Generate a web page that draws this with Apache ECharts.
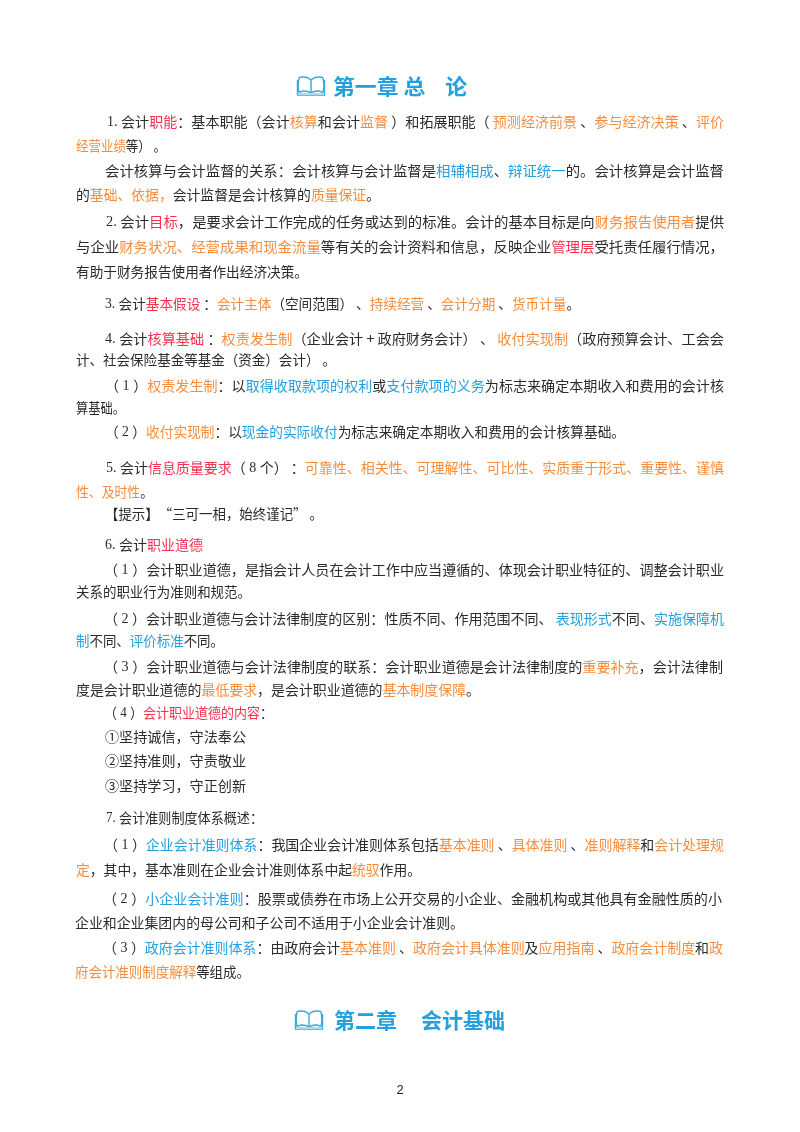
<!DOCTYPE html>
<html>
<head>
<meta charset="utf-8">
<script src="https://cdn.jsdelivr.net/npm/echarts@6/dist/echarts.min.js"></script>
<style>html,body{margin:0;background:#fff}#main{width:800px;height:1132px}</style>
</head>
<body>
<div id="main"></div>
<script>
// {r|} red, {o|} orange, {b|} blue, {d|} latin digits
const bodyLines = [
    '{d|1. }会计{r|职能}：基本职能（会计{o|核算}和会计{o|监督} ）和拓展职能（ {o|预测经济前景} 、{o|参与经济决策} 、{o|评价}',
    '{o|经营业绩}等） 。',
    '会计核算与会计监督的关系：会计核算与会计监督是{b|相辅相成}、{b|辩证统一}的。会计核算是会计监督',
    '的{o|基础、依据，}会计监督是会计核算的{o|质量保证}。',
    '{d|2. }会计{r|目标}，是要求会计工作完成的任务或达到的标准。会计的基本目标是向{o|财务报告使用者}提供',
    '与企业{o|财务状况、经营成果和现金流量}等有关的会计资料和信息，反映企业{r|管理层}受托责任履行情况，',
    '有助于财务报告使用者作出经济决策。',
    '{d|3. }会计{r|基本假设} ：{o|会计主体}（空间范围） 、{o|持续经营} 、{o|会计分期} 、{o|货币计量}。',
    '{d|4. }会计{r|核算基础} ：{o|权责发生制}（企业会计 + 政府财务会计） 、 {o|收付实现制}（政府预算会计、工会会',
    '计、社会保险基金等基金（资金）会计） 。',
    '（{d| 1 }）{o|权责发生制}：以{b|取得收取款项的权利}或{b|支付款项的义务}为标志来确定本期收入和费用的会计核',
    '算基础。',
    '（{d| 2 }）{o|收付实现制}：以{b|现金的实际收付}为标志来确定本期收入和费用的会计核算基础。',
    '{d|5. }会计{r|信息质量要求}（{d| 8 }个） ：{o|可靠性、相关性、可理解性、可比性、实质重于形式、重要性、谨慎}',
    '{o|性、及时性}。',
    '【提示】“三可一相，始终谨记” 。',
    '{d|6. }会计{r|职业道德}',
    '（{d| 1 }）会计职业道德，是指会计人员在会计工作中应当遵循的、体现会计职业特征的、调整会计职业',
    '关系的职业行为准则和规范。',
    '（{d| 2 }）会计职业道德与会计法律制度的区别：性质不同、作用范围不同、 {b|表现形式}不同、{b|实施保障机}',
    '{b|制}不同、{b|评价标准}不同。',
    '（{d| 3 }）会计职业道德与会计法律制度的联系：会计职业道德是会计法律制度的{o|重要补充}，会计法律制',
    '度是会计职业道德的{o|最低要求}，是会计职业道德的{o|基本制度保障}。',
    '（{d| 4 }）{r|会计职业道德的内容}：',
    '①坚持诚信，守法奉公',
    '②坚持准则，守责敬业',
    '③坚持学习，守正创新',
    '{d|7. }会计准则制度体系概述：',
    '（{d| 1 }）{b|企业会计准则体系}：我国企业会计准则体系包括{o|基本准则} 、{o|具体准则} 、{o|准则解释}和{o|会计处理规}',
    '{o|定}，其中，基本准则在企业会计准则体系中起{o|统驭}作用。',
    '（{d| 2 }）{b|小企业会计准则}：股票或债券在市场上公开交易的小企业、金融机构或其他具有金融性质的小',
    '企业和企业集团内的母公司和子公司不适用于小企业会计准则。',
    '（{d| 3 }）{b|政府会计准则体系}：由政府会计{o|基本准则} 、{o|政府会计具体准则}及{o|应用指南} 、{o|政府会计制度}和{o|政}',
    '{o|府会计准则制度解释}等组成。'
];
const lineX = [107, 76, 105, 76, 106, 76, 76, 105, 105, 76, 105, 76, 105, 106, 76, 105, 105, 104, 76, 104, 76, 104, 76, 104, 105, 105, 105, 106, 104, 76, 103, 75, 103, 75];
const lineY = [122, 146, 171, 195, 222, 247, 272, 304, 339, 360, 386, 408, 432, 468, 492, 514, 545, 570, 592, 619, 641, 667, 690, 713, 737, 761, 786, 818, 845, 870, 899, 923, 948, 972];
const lineEnd = [724, 166, 724, 380, 724, 724, 308, 580, 724, 336, 724, 125, 625, 724, 153, 323, 203, 724, 251, 724, 224, 723, 480, 273, 246, 246, 246, 263, 724, 421, 722, 464, 723, 250];

const chapterTitles = ['第一章 总    论', '第二章     会计基础'];
const chapterX = [333, 334];
const chapterY = [86, 1020];
const chapterEnd = [467, 505];
const iconX = [297, 295];
const iconY = [76, 1010];
const pageNumber = '2';

const COL_TEXT = '#2b2b2b', COL_RED = '#f5334f', COL_ORANGE = '#f78d3d', COL_BLUE = '#22a0e0';
const COL_ICON = '#3ba7dc';
const CJK = '"Noto Sans CJK SC"';
const SERIF = '"Liberation Serif"';
const FS = 14.2;

const rich = {
    r: { fill: COL_RED, fontFamily: CJK, fontSize: FS },
    o: { fill: COL_ORANGE, fontFamily: CJK, fontSize: FS },
    b: { fill: COL_BLUE, fontFamily: CJK, fontSize: FS },
    d: { fill: COL_TEXT, fontFamily: SERIF, fontSize: FS }
};

const ctx = document.createElement('canvas').getContext('2d');
function measureLine(str) {
    let w = 0;
    str.replace(/\{(\w)\|([^}]*)\}|([^{]+)/g, function (m, tag, inner, plain) {
        ctx.font = FS + 'px ' + (tag === 'd' ? SERIF : CJK);
        w += ctx.measureText(tag ? inner : plain).width;
        return m;
    });
    return w;
}

function bookIcon(x, y) {
    const line = { fill: null, stroke: COL_ICON, lineWidth: 1.4 };
    return {
        type: 'group',
        x: x,
        y: y,
        children: [
            { type: 'polyline', shape: { points: [[14, 4], [10, 1.5], [5, 1], [2, 2], [2, 16], [6, 15], [11, 15.5], [14, 17]], smooth: 0.3 }, style: line },
            { type: 'polyline', shape: { points: [[14, 4], [18, 1.5], [23, 1], [26, 2], [26, 16], [22, 15], [17, 15.5], [14, 17]], smooth: 0.3 }, style: line },
            { type: 'line', shape: { x1: 14, y1: 4, x2: 14, y2: 17 }, style: line },
            { type: 'polyline', shape: { points: [[0.5, 4], [0.5, 19], [27.5, 19], [27.5, 4]] }, style: line },
            { type: 'rect', shape: { x: 1, y: 17, width: 26, height: 2 }, style: { fill: '#a9dbf2' } }
        ]
    };
}

const elements = [];

bodyLines.forEach(function (str, i) {
    elements.push({
        type: 'text',
        x: lineX[i],
        y: lineY[i],
        scaleX: (lineEnd[i] - lineX[i]) / measureLine(str),
        style: {
            text: str,
            rich: rich,
            fill: COL_TEXT,
            fontFamily: CJK,
            fontSize: FS,
            verticalAlign: 'middle'
        }
    });
});

chapterTitles.forEach(function (str, i) {
    ctx.font = 'bold 21px ' + CJK;
    elements.push({
        type: 'text',
        x: chapterX[i],
        y: chapterY[i],
        scaleX: (chapterEnd[i] - chapterX[i]) / ctx.measureText(str).width,
        style: {
            text: str,
            fill: COL_BLUE,
            fontFamily: CJK,
            fontSize: 21,
            fontWeight: 'bold',
            verticalAlign: 'middle'
        }
    });
    elements.push(bookIcon(iconX[i], iconY[i]));
});

elements.push({
    type: 'text',
    x: 400,
    y: 1090,
    style: {
        text: pageNumber,
        fill: '#222',
        fontFamily: '"Liberation Sans"',
        fontSize: 13,
        align: 'center',
        verticalAlign: 'middle'
    }
});

const myChart = echarts.init(document.getElementById('main'));
myChart.setOption({
    backgroundColor: '#fff',
    animation: false,
    graphic: { elements: elements }
});
</script>
</body>
</html>
